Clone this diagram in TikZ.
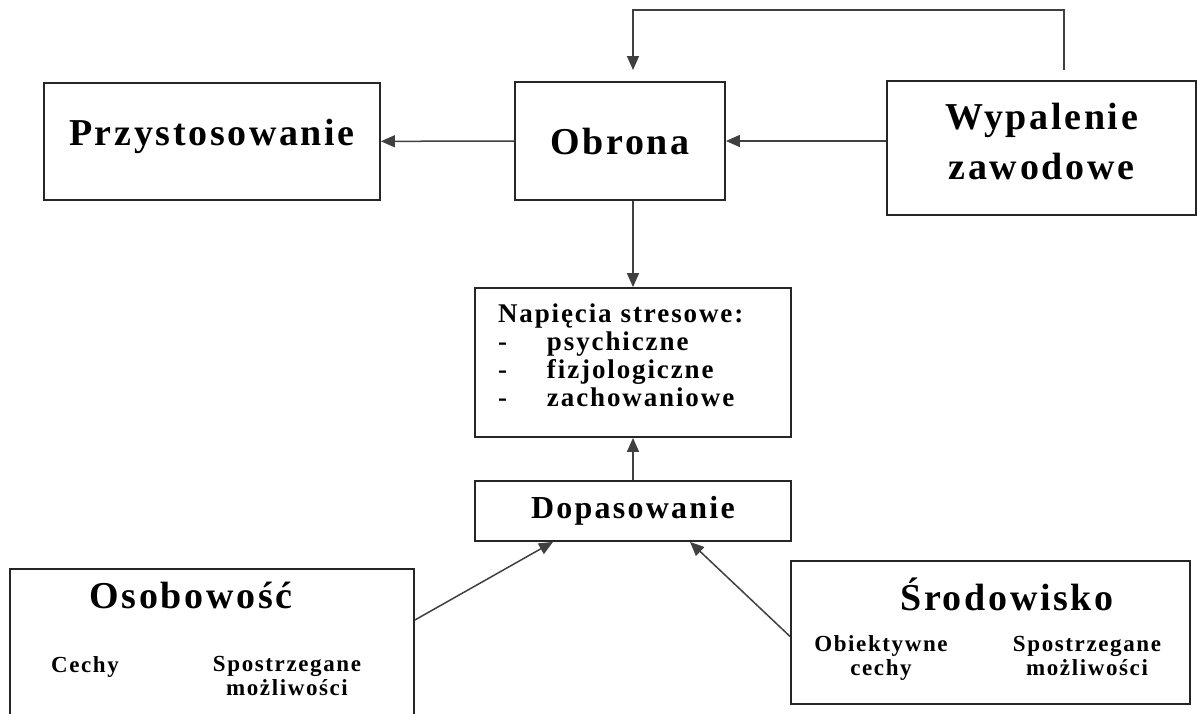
\documentclass[tikz,border=0pt]{standalone}
\usepackage{fontspec}
\setmainfont{Liberation Serif}
\newfontfamily\wordfont[LetterSpace=7]{Liberation Serif}
\usetikzlibrary{arrows.meta}

\begin{document}
\begin{tikzpicture}[x=1pt, y=-1pt, ->, >={Triangle[length=14pt,width=12pt]},
    box/.style={draw=black!85, line width=1.8pt, inner sep=0pt},
    big/.style={font=\wordfont\bfseries\fontsize{38}{50}\selectfont},
    small/.style={inner sep=0pt, align=center, font=\wordfont\bfseries\fontsize{23}{24}\selectfont},
    conn/.style={draw=black!75, line width=1.5pt}]

    \useasboundingbox (0,0) rectangle (1197,713);

    \node[box, big, text depth=18pt, minimum width=336pt, minimum height=117pt] (przyst) at (212,141.5) {Przystosowanie};
    \node[box, big, minimum width=210pt, minimum height=118pt] (obrona) at (620,141) {Obrona};
    \node[box, big, align=center, text depth=14pt, minimum width=309pt, minimum height=134pt] (wypal) at (1041.5,148) {Wypalenie\\zawodowe};
    \node[box, align=left, text width=270pt, text height=4pt, font=\wordfont\bfseries\fontsize{27}{28}\selectfont, minimum width=316pt, minimum height=149pt] (napiecia) at (633,362.5)
        {Napięcia stresowe:\\\makebox[49pt][l]{-}psychiczne\\\makebox[49pt][l]{-}fizjologiczne\\\makebox[49pt][l]{-}zachowaniowe};
    \node[box, font=\wordfont\bfseries\fontsize{32}{34}\selectfont, minimum width=316pt, minimum height=60pt] (dopas) at (633,511) {Dopasowanie};

    \node[box, minimum width=404pt, minimum height=146pt] (osob) at (212,642) {};
    \node[big, anchor=base, inner sep=0pt] (osobT) at (191,608) {Osobowość};
    \node[small, anchor=base] (osobL) at (85,672) {Cechy};
    \node[small, anchor=base] (osobR) at (287,695) {Spostrzegane\\możliwości};

    \node[box, minimum width=399pt, minimum height=143pt] (srod) at (990.5,632.5) {};
    \node[big, anchor=base, inner sep=0pt] (srodT) at (1007,610) {Środowisko};
    \node[small, anchor=base] (srodL) at (881,675) {Obiektywne\\cechy};
    \node[small, anchor=base] (srodR) at (1087,675) {Spostrzegane\\możliwości};

    \coordinate (fbA) at (1064,70);
    \coordinate (fbB) at (633,70);

    \path
        (obrona) edge[conn] (przyst)
        (wypal.west |- obrona) edge[conn] (obrona)
        (napiecia.north |- obrona.south) edge[conn] (napiecia)
        (dopas) edge[conn] (napiecia)
        ([yshift=22pt]osob.east) edge[conn] ([xshift=-80pt]dopas.south)
        ([yshift=-4pt]srod.west) edge[conn] ([xshift=57pt]dopas.south)
        ;
    \draw[conn] (fbA) -- ++(0,-60) -| (fbB);
\end{tikzpicture}
\end{document}
